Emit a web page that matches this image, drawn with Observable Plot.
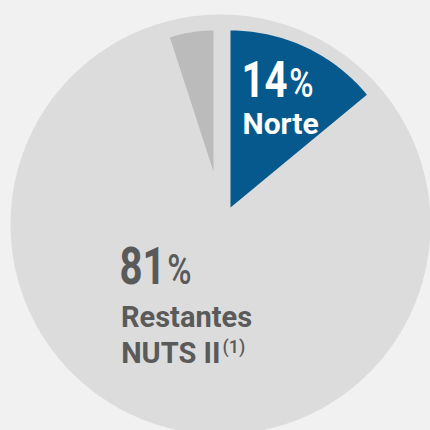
<!DOCTYPE html>
<html>
<head>
<meta charset="utf-8">
<script src="https://cdn.jsdelivr.net/npm/d3@7"></script>
<script src="https://cdn.jsdelivr.net/npm/@observablehq/plot@0.6"></script>
<style>
  html, body { margin: 0; padding: 0; background: #f1f1f1; }
  #chart svg { display: block; }
</style>
</head>
<body>
<div id="chart"></div>
<script>
// ---- data ----
const categories = ["Norte", "Restantes NUTS II", "Outras"];
const shares = [14, 81, 5];
const nameLines = [["Norte"], ["Restantes", "NUTS II"], []];
const footnote = "(1)";

// ---- styles / layout ----
const colors = {"Norte": "#05598c", "Restantes NUTS II": "#dcdcdc", "Outras": "#bbbbbb"};
const disc = {cx: 220, cy: 224, r: 210};
const wedgeLayout = {
  "Norte": {cx: 230, cy: 207, r: 177},
  "Outras": {cx: 213, cy: 171, r: 141}
};
const font = "Roboto, 'Liberation Sans', sans-serif";
const pctStyle = {width: 72, percentSize: "0.82em"}; // condensed look of the original typeface

// cumulative angles (clockwise from 12 o'clock)
const total = d3.sum(shares);
let acc = 0;
const slices = categories.map((c, i) => {
  const a0 = acc / total * 2 * Math.PI;
  acc += shares[i];
  const a1 = acc / total * 2 * Math.PI;
  return {cat: c, value: shares[i], a0, a1};
});

function wedgePoints(s, g) {
  const pts = [{x: g.cx, y: g.cy, cat: s.cat}];
  const n = Math.max(8, Math.ceil((s.a1 - s.a0) / (Math.PI / 180)));
  for (let k = 0; k <= n; k++) {
    const a = s.a0 + (s.a1 - s.a0) * k / n;
    pts.push({x: g.cx + g.r * Math.sin(a), y: g.cy - g.r * Math.cos(a), cat: s.cat});
  }
  pts.push({x: g.cx, y: g.cy, cat: s.cat});
  return pts;
}
function discPoints(g) {
  const pts = [];
  for (let k = 0; k <= 360; k++) {
    const a = k / 360 * 2 * Math.PI;
    pts.push({x: g.cx + g.r * Math.sin(a), y: g.cy - g.r * Math.cos(a)});
  }
  return pts;
}

const norte = slices.find(s => s.cat === "Norte");
const rest = slices.find(s => s.cat === "Restantes NUTS II");
const outras = slices.find(s => s.cat === "Outras");

const txt = (d, o) => Plot.text([d], {textAnchor: "start", lineAnchor: "bottom", fontFamily: font, ...o});

const marks = [
  Plot.line(discPoints(disc), {x: "x", y: "y", fill: colors[rest.cat], stroke: "none", curve: "linear-closed"}),
  Plot.line(wedgePoints(outras, wedgeLayout.Outras), {x: "x", y: "y", fill: colors.Outras, stroke: "none"}),
  Plot.line(wedgePoints(norte, wedgeLayout.Norte), {x: "x", y: "y", fill: colors.Norte, stroke: "none"}),
  // Norte labels
  txt(norte, {x: () => 241, y: () => 96, text: d => `${d.value}%`, fill: "white", fontSize: 50, fontWeight: 700}),
  txt(norte, {x: () => 242, y: () => 133, text: () => nameLines[0][0], fill: "white", fontSize: 30, fontWeight: 700}),
  // Restantes labels
  txt(rest, {x: () => 119, y: () => 283, text: d => `${d.value}%`, fill: "#5a5a5a", fontSize: 51, fontWeight: 700}),
  txt(rest, {x: () => 186, y: () => 326, text: () => nameLines[1][0], fill: "#5a5a5a", fontSize: 29, fontWeight: 700, textAnchor: "middle"}),
  txt(rest, {x: () => 220, y: () => 362, text: () => nameLines[1][1], fill: "#5a5a5a", fontSize: 29, fontWeight: 700, textAnchor: "end"}),
  txt(rest, {x: () => 222, y: () => 352, text: () => footnote, fill: "#5a5a5a", fontSize: 18, fontWeight: 500})
];

const chart = Plot.plot({
  width: 430,
  height: 430,
  margin: 0,
  x: {domain: [0, 430], range: [0, 430], axis: null},
  y: {domain: [0, 430], range: [0, 430], axis: null},
  style: {background: "#f1f1f1", overflow: "hidden"},
  marks
});
// percentage labels: smaller, lighter "%" and a condensed overall width like the original
d3.select(chart).selectAll("text").each(function () {
  const t = this.textContent;
  const m = /^(\d+)%$/.exec(t);
  if (!m) return;
  const sel = d3.select(this);
  sel.text(null);
  sel.append("tspan").text(m[1]);
  sel.append("tspan").attr("font-size", pctStyle.percentSize).attr("font-weight", 500).attr("dx", 2).text("%");
  sel.attr("textLength", pctStyle.width).attr("lengthAdjust", "spacingAndGlyphs");
});
document.getElementById("chart").appendChild(chart);
</script>
</body>
</html>
